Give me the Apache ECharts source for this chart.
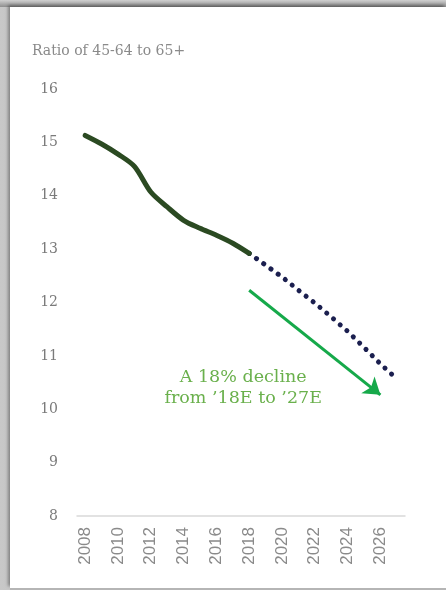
<!DOCTYPE html>
<html>
<head>
<meta charset="utf-8">
<script src="https://cdn.jsdelivr.net/npm/echarts@6/dist/echarts.min.js"></script>
<style>
  html, body { margin: 0; padding: 0; background: #ffffff; width: 446px; height: 590px; overflow: hidden; }
  #frame { position: absolute; left: 0; top: 0; width: 446px; height: 590px; background: linear-gradient(to right, #c8c8c8, #8a8a8a); }
  #inner { position: absolute; left: 10px; top: 7px; width: 436px; height: 581px; background: #fff; box-shadow: -2px -2px 3px rgba(0,0,0,0.35); }
  #bottomline { position: absolute; left: 10px; top: 588px; width: 436px; height: 2px; background: #b5b5b5; }
  #topbar { position: absolute; left: 0; top: 0; width: 446px; height: 7px; background: linear-gradient(to bottom, #d0d0d0, #8e8e8e); }
  #chart { position: absolute; left: 0; top: 0; width: 446px; height: 590px; }
</style>
</head>
<body>
<div id="frame"></div>
<div id="topbar"></div>
<div id="inner"></div>
<div id="bottomline"></div>
<div id="chart"></div>
<script>
const years = ['2008','2009','2010','2011','2012','2013','2014','2015','2016','2017',
               '2018','2019','2020','2021','2022','2023','2024','2025','2026','2027'];
const actual = [15.13, 14.97, 14.78, 14.55, 14.07, 13.79, 13.54, 13.39, 13.26, 13.11,
                12.92, null, null, null, null, null, null, null, null, null];
const projected = [null, null, null, null, null, null, null, null, null, null,
                   12.92, 12.70, 12.48, 12.23, 11.99, 11.73, 11.46, 11.16, 10.85, 10.57];
const yTicks = [8, 16, 1];
const arrowFrom = ['2018', 12.23];
const arrowTo = ['2026', 10.27];
const titleText = 'Ratio of 45-64 to 65+';
const noteText = 'A 18% decline\nfrom \u201918E to \u201927E';
const noteAt = ['2018', 10.40];

const chart = echarts.init(document.getElementById('chart'), null, { renderer: 'canvas' });
chart.setOption({
  backgroundColor: 'transparent',
  animation: false,
  grid: { left: 77, right: 41, top: 89, bottom: 74 },
  graphic: [{
    type: 'text', left: 32, top: 44,
    style: { text: titleText, fill: '#8a8a8a', font: '14px "DejaVu Serif"' }
  }],
  xAxis: {
    type: 'category',
    data: years,
    boundaryGap: true,
    axisLine: { show: true, lineStyle: { color: '#d9d9d9', width: 1.5 } },
    axisTick: { show: false },
    axisLabel: { interval: 1, rotate: 90, margin: 11, color: '#8a8a8a', fontFamily: 'Liberation Sans', fontSize: 17 },
    splitLine: { show: false }
  },
  yAxis: {
    type: 'value',
    min: yTicks[0], max: yTicks[1], interval: yTicks[2],
    axisLine: { show: false },
    axisTick: { show: false },
    splitLine: { show: false },
    axisLabel: { margin: 19, color: '#7a7a7a', fontFamily: 'DejaVu Serif', fontSize: 14 }
  },
  series: [
    {
      type: 'line', data: actual, smooth: 0.3, symbol: 'none', connectNulls: false,
      lineStyle: { color: '#2b4a22', width: 5, cap: 'round' }, z: 3
    },
    {
      type: 'line', data: projected, symbol: 'none',
      lineStyle: { color: '#1b1f4f', width: 5, type: [0.1, 8.8], cap: 'round' }, z: 2,
      markLine: {
        silent: true, symbol: ['none', 'arrow'], symbolSize: 16,
        lineStyle: { color: '#16a94a', width: 3, type: 'solid' },
        itemStyle: { color: '#16a94a' },
        label: { show: false },
        data: [[{ coord: arrowFrom }, { coord: arrowTo }]]
      },
      markPoint: {
        silent: true, symbol: 'circle', symbolSize: 0,
        label: { show: true, position: 'inside', offset: [-6, 0], color: '#6ab04c', fontFamily: 'DejaVu Serif', fontSize: 17.5, lineHeight: 21, align: 'center', formatter: noteText },
        data: [{ coord: noteAt }]
      }
    }
  ]
});
</script>
</body>
</html>
